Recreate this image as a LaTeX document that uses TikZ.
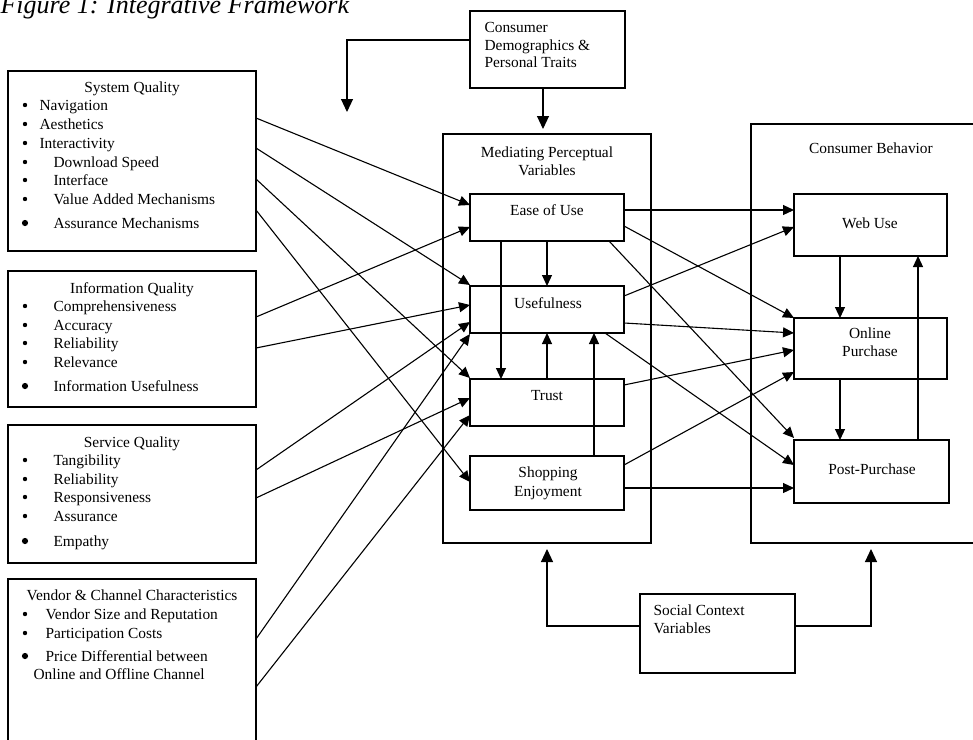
\documentclass[tikz,border=0pt]{standalone}
\usepackage{fontspec}
\setmainfont{Liberation Serif}
\usetikzlibrary{arrows.meta}
\begin{document}
\begin{tikzpicture}[x=1pt,y=-1pt,line width=1.1pt,
  box/.style={draw,line width=1.1pt,anchor=north west,inner sep=0pt,outer sep=0pt},
  txt/.style={font=\fontsize{15.4}{17.5}\selectfont,inner sep=0pt,anchor=base},
  item/.style={font=\fontsize{15.4}{17.5}\selectfont,inner sep=0pt,anchor=base west},
  arr/.style={-{Triangle[length=11pt,width=10pt]}},
  arrbig/.style={-{Triangle[length=13pt,width=12pt]}}]
\useasboundingbox (0,0) rectangle (973,739);
\clip (0,0) rectangle (973,739);

% title
\node[inner sep=0pt,anchor=base west,font=\fontsize{26}{30}\selectfont\itshape] (title) at (0,13) {Figure 1: Integrative Framework};

% boxes
\node[box,minimum width=248pt,minimum height=180pt] (sysq) at (8,71) {};
\node[box,minimum width=248pt,minimum height=136pt] (infq) at (8,271) {};
\node[box,minimum width=248pt,minimum height=138pt] (servq) at (8,425) {};
\node[box,minimum width=248pt,minimum height=200pt] (vend) at (8,579) {};
\node[box,minimum width=155pt,minimum height=77pt] (demo) at (470,11) {};
\node[box,minimum width=208pt,minimum height=409pt] (med) at (443,134) {};
\node[box,minimum width=154pt,minimum height=47pt] (ease) at (470,194) {};
\node[box,minimum width=154pt,minimum height=47pt] (usef) at (470,286) {};
\node[box,minimum width=154pt,minimum height=47pt] (trust) at (470,379) {};
\node[box,minimum width=154pt,minimum height=54pt] (shop) at (470,456) {};
\node[box,minimum width=260pt,minimum height=419pt] (cb) at (751,124) {};
\node[box,minimum width=153pt,minimum height=62pt] (web) at (794,194) {};
\node[box,minimum width=153pt,minimum height=61pt] (online) at (794,318) {};
\node[box,minimum width=155pt,minimum height=63pt] (post) at (794,440) {};
\node[box,minimum width=155pt,minimum height=79pt] (social) at (640,594) {};

% left box texts
\node[txt] (sqt) at (132,92) {System Quality};
\foreach \t/\x/\y [count=\i] in {Navigation/39/105,Aesthetics/39/124,Interactivity/39/143,Download Speed/53/162,Interface/53/180,Value Added Mechanisms/53/199,Assurance Mechanisms/53/223}
  {\node[item] (sq\i) at (\x,\y+5) {\t};}
\node[txt] (iqt) at (132,293) {Information Quality};
\foreach \t/\x/\y [count=\i] in {Comprehensiveness/53/306,Accuracy/53/325,Reliability/53/343,Relevance/53/362,Information Usefulness/53/386}
  {\node[item] (iq\i) at (\x,\y+5) {\t};}
\node[txt] (svt) at (132,447) {Service Quality};
\foreach \t/\x/\y [count=\i] in {Tangibility/53/460,Reliability/53/479,Responsiveness/53/497,Assurance/53/516,Empathy/53/541}
  {\node[item] (sv\i) at (\x,\y+5) {\t};}
\node[txt] (vct) at (132,600) {Vendor \& Channel Characteristics};
\foreach \t/\x/\y [count=\i] in {Vendor Size and Reputation/45/614,Participation Costs/45/633,Price Differential between/45/656,Online and Offline Channel/33/674}
  {\node[item] (vc\i) at (\x,\y+5) {\t};}

% bullets
\foreach \y in {105,124,143,162,180,199,306,325,343,362,460,479,497,516,614,633}
  \fill (25,\y) circle (2.2pt);
\foreach \y in {223,386,541,656}
  \fill (25,\y) circle (3.1pt);

% other texts
\node[item] (dm1) at (484,32) {Consumer};
\node[item] (dm2) at (484,50) {Demographics \&};
\node[item] (dm3) at (484,67) {Personal Traits};
\node[txt] (mt1) at (547,157) {Mediating Perceptual};
\node[txt] (mt2) at (547,175) {Variables};
\node[txt] (cbt) at (871,153) {Consumer Behavior};
\node[txt] (te) at (547,215) {Ease of Use};
\node[txt] (tu) at (548,308) {Usefulness};
\node[txt] (tt) at (547,400) {Trust};
\node[txt] (ts1) at (548,477) {Shopping};
\node[txt] (ts2) at (548,496) {Enjoyment};
\node[txt] (tw) at (870,228) {Web Use};
\node[txt] (to1) at (870,338) {Online};
\node[txt] (to2) at (870,356) {Purchase};
\node[txt] (tp) at (872,474) {Post-Purchase};
\node[item] (sc1) at (653,615) {Social Context};
\node[item] (sc2) at (653,633) {Variables};

% left to mediating
\draw[arr] (sysq.east |- 0,118) -- (ease.west |- 0,205);
\draw[arr] (sysq.east |- 0,148) -- (usef.west |- 0,285);
\draw[arr] (sysq.east |- 0,179) -- (trust.west |- 0,378);
\draw[arr] (sysq.east |- 0,210) -- (shop.west |- 0,482);
\draw[arr] (infq.east |- 0,317) -- (ease.west |- 0,227);
\draw[arr] (infq.east |- 0,348) -- (usef.west |- 0,305);
\draw[arr] (servq.east |- 0,470) -- (usef.west |- 0,322);
\draw[arr] (servq.east |- 0,498) -- (trust.west |- 0,398);
\draw[arr] (vend.east |- 0,639) -- (usef.west |- 0,334);
\draw[arr] (vend.east |- 0,687) -- (trust.west |- 0,415);

% inside mediating
\draw[arr] (ease.south -| 547,0) -- (usef.north -| 547,0);
\draw[arr] (ease.south -| 501,0) -- (trust.north -| 501,0);
\draw[arr] (trust.north -| 547,0) -- (usef.south -| 547,0);
\draw[arr] (shop.north -| 594,0) -- (usef.south -| 594,0);

% mediating to behavior
\draw[arr] (ease.east |- 0,210) -- (web.west |- 0,210);
\draw[arr] (ease.east |- 0,226) -- (online.north west);
\draw[arr] (ease.south -| 609,0) -- (post.west |- 0,438);
\draw[arr] (usef.east |- 0,296) -- (web.west |- 0,227);
\draw[arr] (usef.east |- 0,323) -- (online.west |- 0,333);
\draw[arr] (usef.south -| 605,0) -- (post.west |- 0,465);
\draw[arr] (trust.east |- 0,385) -- (online.west |- 0,350);
\draw[arr] (shop.east |- 0,465) -- (online.west |- 0,372);
\draw[arr] (shop.east |- 0,488) -- (post.west |- 0,488);

% inside behavior
\draw[arr] (web.south -| 840,0) -- (online.north -| 840,0);
\draw[arr] (online.south -| 840,0) -- (post.north -| 840,0);
\draw[arr] (post.north -| 918,0) -- (web.south -| 918,0);

% outer arrows
\coordinate (demoend) at (347,112);
\draw[arrbig] (demo.west |- 0,40) -| (demoend);
\draw[arrbig,shorten >=5pt] (demo.south -| 543,0) -- (med.north -| 543,0);
\draw[arrbig,shorten >=6pt] (social.west |- 0,626) -| (med.south -| 547,0);
\draw[arrbig,shorten >=6pt] (social.east |- 0,626) -| (cb.south -| 871,0);
\end{tikzpicture}
\end{document}
